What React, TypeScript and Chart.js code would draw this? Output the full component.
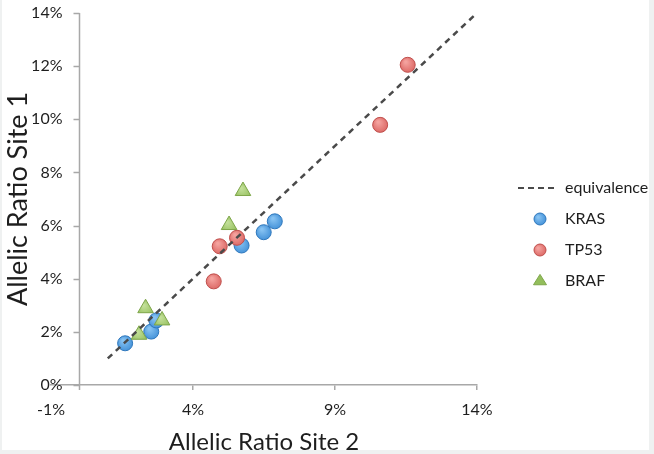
import React, { useEffect, useRef } from 'react';
import { Chart, registerables } from 'chart.js';

Chart.register(...registerables);

// ---- data (percent units) ----
const seriesNames = ['equivalence', 'KRAS', 'TP53', 'BRAF'];
const equivalenceX = [1, 14];
const equivalenceY = [1, 14];
const krasX = [1.61, 2.53, 2.71, 5.71, 6.49, 6.88];
const krasY = [1.57, 2.01, 2.43, 5.25, 5.75, 6.16];
const tp53X = [4.73, 4.94, 5.55, 10.59, 11.56];
const tp53Y = [3.9, 5.22, 5.54, 9.79, 12.05];
const brafX = [2.1, 2.33, 2.91, 5.27, 5.76];
const brafY = [1.89, 2.89, 2.43, 6.02, 7.3];
const xTicks = [-1, 4, 9, 14];
const yTicks = [0, 2, 4, 6, 8, 10, 12, 14];
const xTitle = 'Allelic Ratio Site 2';
const yTitle = 'Allelic Ratio Site 1';

// ---- styles ----
const FONT = 'Lato';
const TEXT = '#1e1e1e';
const AXIS = '#a8a8a8';
const LINE = '#4a4a4a';
const BLUE = ['#3d8dd6', '#86c2f2', '#2f78bd'];
const RED = ['#da6360', '#f4a29e', '#c04f4c'];
const GREEN = ['#93be5b', '#c2df98', '#7ea64a'];

const pts = (xs: number[], ys: number[]) => xs.map((x, i) => ({ x, y: ys[i] }));
const pct = (v: any) => `${v}%`;

function ballFill(cols: string[]) {
  return (c: any) => {
    if (!c || c.type !== 'data' || !c.parsed) return cols[0];
    const sc = c.chart && c.chart.scales;
    if (!sc || !sc.x || !sc.y) return cols[0];
    const px = sc.x.getPixelForValue(c.parsed.x);
    const py = sc.y.getPixelForValue(c.parsed.y);
    if (!Number.isFinite(px) || !Number.isFinite(py)) return cols[0];
    const g = c.chart.ctx.createRadialGradient(px - 2, py - 3, 1, px, py, 9);
    g.addColorStop(0, cols[1]);
    g.addColorStop(1, cols[0]);
    return g;
  };
}

const framePlugin = {
  id: 'frame',
  beforeDraw(chart: any) {
    const { ctx, width, height } = chart;
    ctx.save();
    ctx.fillStyle = '#ffffff';
    ctx.fillRect(0, 0, width, height);
    ctx.fillStyle = '#eff1f1';
    ctx.fillRect(width - 5, 0, 5, height);
    ctx.fillRect(0, height - 4, width, 4);
    ctx.fillRect(0, 0, 2, height);
    ctx.restore();
  },
};

// y axis crosses at x = 0, with its ticks and labels on its left
const yAxisAtZero = {
  id: 'yAxisAtZero',
  beforeDatasetsDraw(chart: any) {
    const { ctx, scales } = chart;
    const { x, y } = scales;
    const px = Math.round(x.getPixelForValue(0)) + 0.5;
    ctx.save();
    ctx.strokeStyle = AXIS;
    ctx.lineWidth = 1.5;
    ctx.beginPath();
    ctx.moveTo(px, y.top);
    ctx.lineTo(px, y.bottom + 5);
    y.ticks.forEach((t: any) => {
      const py = Math.round(y.getPixelForValue(t.value)) + 0.5;
      ctx.moveTo(px - 6, py);
      ctx.lineTo(px, py);
    });
    ctx.stroke();
    ctx.fillStyle = TEXT;
    ctx.font = `16px ${FONT}`;
    ctx.textAlign = 'right';
    ctx.textBaseline = 'middle';
    y.ticks.forEach((t: any) => {
      const py = y.getPixelForValue(t.value);
      ctx.fillText(pct(t.value), px - 17, py);
    });
    ctx.restore();
  },
};

const sideLegend = {
  id: 'sideLegend',
  afterDraw(chart: any) {
    const { ctx } = chart;
    const top = 188;
    const step = 31;
    const mx = 540;
    ctx.save();
    chart.data.datasets.forEach((ds: any, i: number) => {
      const y = top + i * step;
      ctx.setLineDash([]);
      if (ds.legendKind === 'line') {
        ctx.strokeStyle = LINE;
        ctx.lineWidth = 2;
        ctx.setLineDash([6, 4]);
        ctx.beginPath();
        ctx.moveTo(518, y);
        ctx.lineTo(558, y);
        ctx.stroke();
        ctx.setLineDash([]);
      } else if (ds.legendKind === 'circle') {
        const g = ctx.createRadialGradient(mx - 2, y - 2, 1, mx, y, 7);
        g.addColorStop(0, ds.legendColors[1]);
        g.addColorStop(1, ds.legendColors[0]);
        ctx.fillStyle = g;
        ctx.strokeStyle = ds.legendColors[2];
        ctx.lineWidth = 1;
        ctx.beginPath();
        ctx.arc(mx, y, 6, 0, Math.PI * 2);
        ctx.fill();
        ctx.stroke();
      } else {
        const r = 7.5;
        ctx.fillStyle = ds.legendColors[0];
        ctx.strokeStyle = ds.legendColors[2];
        ctx.lineWidth = 1;
        ctx.beginPath();
        ctx.moveTo(mx, y - r * 0.75 - 1);
        ctx.lineTo(mx + r * 0.866, y + r * 0.5);
        ctx.lineTo(mx - r * 0.866, y + r * 0.5);
        ctx.closePath();
        ctx.fill();
        ctx.stroke();
      }
      ctx.fillStyle = TEXT;
      ctx.font = `16px ${FONT}`;
      ctx.textAlign = 'left';
      ctx.textBaseline = 'middle';
      ctx.fillText(ds.label, 565, y);
    });
    ctx.restore();
  },
};

export default function App() {
  const ref = useRef<HTMLCanvasElement | null>(null);

  useEffect(() => {
    if (!ref.current) return;
    const chart = new Chart(ref.current, {
      type: 'scatter',
      data: {
        datasets: [
          {
            type: 'line',
            label: seriesNames[0],
            data: pts(equivalenceX, equivalenceY),
            borderColor: LINE,
            borderWidth: 2.5,
            borderDash: [6, 5],
            pointRadius: 0,
            fill: false,
            order: 0,
            legendKind: 'line',
          } as any,
          {
            label: seriesNames[1],
            data: pts(krasX, krasY),
            pointStyle: 'circle',
            pointRadius: 7.5,
            backgroundColor: ballFill(BLUE),
            borderColor: BLUE[2],
            borderWidth: 1,
            order: 3,
            legendKind: 'circle',
            legendColors: BLUE,
          } as any,
          {
            label: seriesNames[2],
            data: pts(tp53X, tp53Y),
            pointStyle: 'circle',
            pointRadius: 7.5,
            backgroundColor: ballFill(RED),
            borderColor: RED[2],
            borderWidth: 1,
            order: 2,
            legendKind: 'circle',
            legendColors: RED,
          } as any,
          {
            label: seriesNames[3],
            data: pts(brafX, brafY),
            pointStyle: 'triangle',
            pointRadius: 9,
            backgroundColor: ballFill(GREEN),
            borderColor: GREEN[2],
            borderWidth: 1,
            order: 1,
            legendKind: 'triangle',
            legendColors: GREEN,
          } as any,
        ],
      },
      options: {
        animation: false,
        responsive: true,
        maintainAspectRatio: false,
        layout: { padding: { left: 0, right: 177, top: 13, bottom: 0 } },
        plugins: {
          legend: { display: false },
          tooltip: { enabled: false },
        },
        scales: {
          x: {
            type: 'linear',
            min: -1,
            max: 14,
            afterBuildTicks: (s: any) => {
              s.ticks = xTicks.map((v) => ({ value: v }));
            },
            afterFit: (s: any) => {
              s.height = 69;
            },
            ticks: {
              autoSkip: false,
              maxRotation: 0,
              padding: 10,
              color: TEXT,
              font: { family: FONT, size: 16 },
              callback: pct,
            },
            grid: {
              display: true,
              drawOnChartArea: false,
              drawTicks: true,
              tickLength: 5,
              lineWidth: 1.5,
              color: (c: any) => (c.index === 0 ? 'rgba(0,0,0,0)' : AXIS),
            },
            border: { display: true, color: AXIS, width: 1.5 },
            title: {
              display: true,
              text: xTitle,
              color: TEXT,
              font: { family: FONT, size: 24, lineHeight: 1 },
              padding: { top: 0, bottom: 0 },
            },
          },
          y: {
            type: 'linear',
            min: 0,
            max: 14,
            afterBuildTicks: (s: any) => {
              s.ticks = yTicks.map((v) => ({ value: v }));
            },
            afterFit: (s: any) => {
              s.width = 51;
            },
            ticks: { display: false, callback: pct },
            grid: { display: false },
            border: { display: false },
            title: {
              display: true,
              text: yTitle,
              color: TEXT,
              font: { family: FONT, size: 27, lineHeight: 1 },
              padding: { top: 5, bottom: 0 },
            },
          },
        },
      },
      plugins: [framePlugin, yAxisAtZero, sideLegend],
    });
    return () => chart.destroy();
  }, []);

  return (
    <div style={{ position: 'fixed', left: 0, top: 0, width: 654, height: 454, background: '#fff' }}>
      <canvas ref={ref} />
    </div>
  );
}
